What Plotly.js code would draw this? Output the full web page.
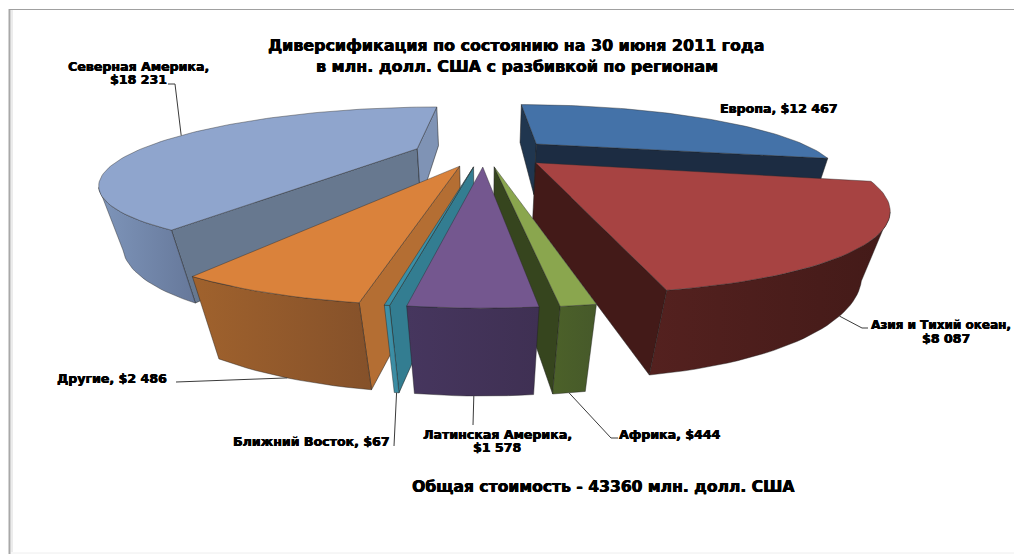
<!DOCTYPE html>
<html>
<head>
<meta charset="utf-8">
<script src="https://cdn.plot.ly/plotly-3.0.1.min.js"></script>
<style>html,body{margin:0;padding:0;background:#fff}#chart{width:1014px;height:554px}</style>
</head>
<body>
<div id="chart"></div>
<script>
// Regions and their values, in million USD, clockwise from the back of the pie
const regions = ['Европа', 'Азия и Тихий океан', 'Африка', 'Латинская Америка', 'Ближний Восток', 'Другие', 'Северная Америка'];
const values = [12467, 8087, 444, 1578, 67, 2486, 18231];
const titleLines = ['Диверсификация по состоянию на 30 июня 2011 года', 'в млн. долл. США с разбивкой по регионам'];
const footerLine = 'Общая стоимость - 43360 млн. долл. США';

// Face colours per region
const topColors = ['#4472A8', '#A74342', '#8AA64E', '#74578F', '#3A8FA6', '#DA823B', '#8FA5CD'];
const rimLeft = ['#3b5f8a', '#54211F', '#4C6129', '#46365E', '#3F93AB', '#A0622D', '#7E95BA'];
const rimRight = ['#3b5f8a', '#431A18', '#46592A', '#3F3053', '#3A8AA0', '#85512A', '#66789A'];
const startWall = ['#20364F', '#431A18', '#36451E', '#3F3053', '#337D91', '#B46E33', '#67788F'];
const endWall = ['#1C2C42', '#431A18', '#36451E', '#3F3053', '#337D91', '#B46E33', '#7F93B5'];

// Back-to-front painting order (indices into regions)
const paintOrder = [6, 0, 1, 5, 2, 4, 3];

// Perspective projection of the pie: ground plane (u right, v towards the viewer), z = 0 top, z = 1 bottom
const view = {cx: 484, cy: 152, A: 282, B: 61.8, C: 55.6, p: 0.424, q: 0.054};
const explodeU = 0.25;
const explodeV = 0.22;
const camV = 1 / view.p;

function project(u, v, z) {
  const w = 1 - view.p * v + view.q * z;
  return [view.cx + view.A * u / w, view.cy + (view.B * v + view.C * z) / w];
}

const total = values.reduce((a, b) => a + b, 0);
const rad = d => d * Math.PI / 180;
let cursor = 0;
const slices = values.map(val => {
  const a0 = cursor;
  const a1 = cursor + val / total * 360;
  cursor = a1;
  const mid = (a0 + a1) / 2;
  return {a0, a1, mid, ou: explodeU * Math.sin(rad(mid)), ov: -explodeV * Math.cos(rad(mid))};
});

const rimPt = (s, deg) => [s.ou + Math.sin(rad(deg)), s.ov - Math.cos(rad(deg))];
const traces = [];

function addFace(ground, zFlags, style) {
  const pts = ground.map((g, i) => project(g[0], g[1], zFlags[i]));
  const t = {
    type: 'scatter', mode: 'lines', hoverinfo: 'skip', showlegend: false,
    x: pts.map(p => p[0]), y: pts.map(p => p[1]), fill: 'toself',
    line: {color: style.edge, width: style.edgeWidth === undefined ? 0.7 : style.edgeWidth}
  };
  if (style.left) {
    t.fillgradient = {type: 'horizontal', colorscale: [[0, style.left], [1, style.right]]};
  } else {
    t.fillcolor = style.fill;
  }
  traces.push(t);
}

function addWall(s, deg, isStart, color) {
  const c = Math.cos(rad(deg)), n = isStart ? -1 : 1;
  const nx = n * c, ny = n * Math.sin(rad(deg));
  if ((0 - s.ou) * nx + (camV - s.ov) * ny <= 0) return;
  const a = [s.ou, s.ov], r = rimPt(s, deg);
  addFace([a, r, r, a, a], [0, 0, 1, 1, 0], {fill: color, edge: 'rgba(30,30,30,0.75)'});
}

function addRim(s, i) {
  // Only the stretch of the outer wall that faces the camera
  let from = null, to = null;
  for (let d = s.a0; d <= s.a1 + 1e-9; d += Math.max((s.a1 - s.a0) / 120, 0.02)) {
    const p = rimPt(s, d);
    const vis = (0 - p[0]) * Math.sin(rad(d)) + (camV - p[1]) * (-Math.cos(rad(d))) > 0;
    if (vis) { if (from === null) from = d; to = d; }
  }
  if (from === null) return;
  const arc = [];
  const n = Math.max(2, Math.ceil((to - from) / 1.5));
  for (let k = 0; k <= n; k++) arc.push(rimPt(s, from + (to - from) * k / n));
  const ground = arc.concat(arc.slice().reverse());
  const flags = arc.map(() => 0).concat(arc.map(() => 1));
  ground.push(arc[0]); flags.push(0);
  addFace(ground, flags, {left: rimLeft[i], right: rimRight[i], edge: 'rgba(30,30,30,0.6)'});
}

function addTop(s, i) {
  const ground = [[s.ou, s.ov]];
  const n = Math.max(2, Math.ceil((s.a1 - s.a0) / 1.5));
  for (let k = 0; k <= n; k++) ground.push(rimPt(s, s.a0 + (s.a1 - s.a0) * k / n));
  ground.push([s.ou, s.ov]);
  addFace(ground, ground.map(() => 0), {fill: topColors[i], edge: 'rgba(40,40,40,0.6)'});
}

paintOrder.forEach(i => {
  const s = slices[i];
  addWall(s, s.a0, true, startWall[i]);
  addWall(s, s.a1, false, endWall[i]);
  addRim(s, i);
  addTop(s, i);
});

// Value labels: text centre and where the leader finishes
const money = v => '$' + String(v).replace(/\B(?=(\d{3})+$)/g, ' ');
const labelPlace = [
  {x: 779, y: 108, one: true, leader: null},
  {x: 941, y: 325, valueX: 946, size: 12, one: false, leader: [[862, 328], [868, 328]], z: 1},
  {x: 670, y: 434, one: true, leader: [[611, 438], [618, 438]], z: 1},
  {x: 497, y: 434, one: false, leader: [[473, 425]], z: 1},
  {x: 311, y: 441, one: true, leader: [[394, 446]], z: 1},
  {x: 112, y: 378, one: true, leader: [[176, 382]], z: 1},
  {x: 138, y: 66, one: false, leader: [[175, 84], [168, 84]], z: 0}
];

labelPlace.forEach((pl, i) => {
  if (!pl.leader) return;
  const s = slices[i];
  const start = project(...rimPt(s, s.mid), pl.z);
  const line = [start].concat(pl.leader);
  traces.push({
    type: 'scatter', mode: 'lines', hoverinfo: 'skip', showlegend: false,
    x: line.map(p => p[0]), y: line.map(p => p[1]),
    line: {color: '#3a3a3a', width: 1}
  });
});

const annotations = [];
function note(text, x, y, size) {
  annotations.push({
    text, x, y, xref: 'x', yref: 'y', xanchor: 'center', yanchor: 'middle', showarrow: false,
    font: {family: 'DejaVu Sans', size, color: '#000', weight: 700, shadow: '0.4px 0 0 #000, -0.3px 0 0 #000'}
  });
}
regions.forEach((name, i) => {
  const pl = labelPlace[i];
  const size = pl.size || 12.6;
  if (pl.one) {
    note(name + ', ' + money(values[i]), pl.x, pl.y, size);
  } else {
    note(name + ',', pl.x, pl.y, size);
    note(money(values[i]), pl.valueX || pl.x, pl.y + 13, 12.6);
  }
});
note(titleLines[0], 516, 45, 15.9);
note(titleLines[1], 517, 66, 15.9);
note(footerLine, 603, 487, 15.6);

const frameLines = [
  {type: 'line', xref: 'x', yref: 'y', x0: 9.5, x1: 9.5, y0: 9, y1: 554, line: {color: '#a8a8a8', width: 2}},
  {type: 'line', xref: 'x', yref: 'y', x0: 12, x1: 12, y0: 10, y1: 552, line: {color: '#ececec', width: 2}},
  {type: 'line', xref: 'x', yref: 'y', x0: 9, x1: 1014, y0: 9.5, y1: 9.5, line: {color: '#a0a0a0', width: 1.2}},
  {type: 'line', xref: 'x', yref: 'y', x0: 11, x1: 1014, y0: 553, y1: 553, line: {color: '#eeeeee', width: 1}}
];

const axis = {visible: false, fixedrange: true, showgrid: false, zeroline: false};
Plotly.newPlot('chart', traces, {
  width: 1014, height: 554,
  margin: {l: 0, r: 0, t: 0, b: 0},
  paper_bgcolor: '#fff', plot_bgcolor: '#fff',
  showlegend: false,
  xaxis: Object.assign({range: [0, 1014]}, axis),
  yaxis: Object.assign({range: [554, 0]}, axis),
  annotations, shapes: frameLines
}, {displayModeBar: false, staticPlot: true});
</script>
</body>
</html>
